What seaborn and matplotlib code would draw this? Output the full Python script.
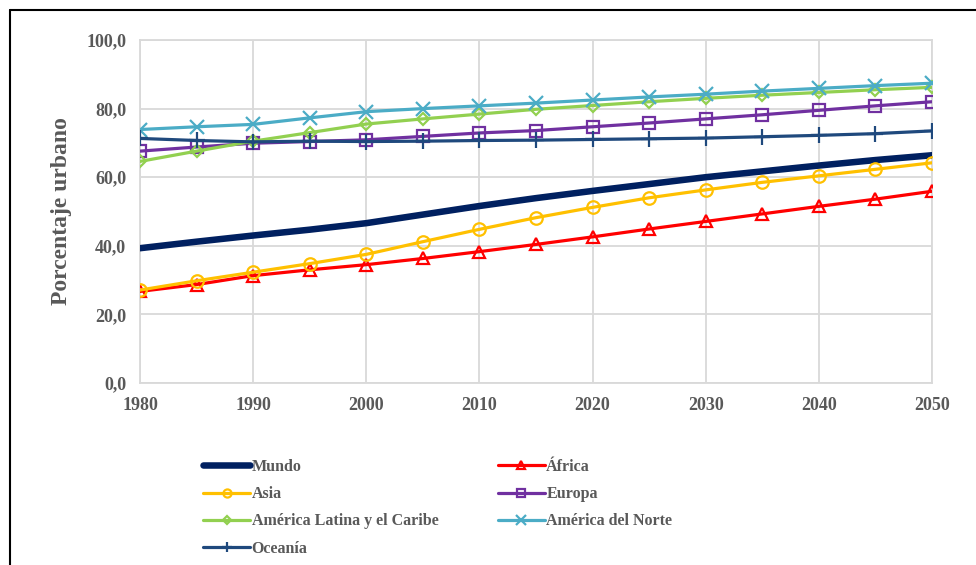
import matplotlib
matplotlib.use("Agg")
import matplotlib.pyplot as plt
import seaborn as sns
import pandas as pd
from matplotlib.lines import Line2D

# años y porcentaje urbano por región
years = [1980, 1985, 1990, 1995, 2000, 2005, 2010, 2015, 2020, 2025, 2030, 2035, 2040, 2045, 2050]
mundo = [39.3, 41.2, 43.0, 44.7, 46.6, 49.1, 51.6, 53.9, 56.0, 58.0, 60.0, 61.7, 63.4, 65.0, 66.4]
africa = [26.7, 28.7, 31.3, 33.0, 34.5, 36.3, 38.3, 40.4, 42.6, 44.9, 47.1, 49.3, 51.5, 53.6, 55.9]
asia = [27.1, 29.8, 32.3, 34.8, 37.5, 41.2, 44.8, 48.2, 51.2, 54.0, 56.3, 58.5, 60.4, 62.3, 64.2]
europa = [67.6, 68.8, 69.9, 70.4, 70.9, 71.9, 72.9, 73.6, 74.7, 75.8, 77.0, 78.2, 79.5, 80.8, 82.0]
latam = [64.6, 67.6, 70.5, 73.0, 75.5, 77.0, 78.4, 79.8, 80.9, 82.0, 83.0, 83.9, 84.7, 85.5, 86.2]
norte = [73.9, 74.7, 75.4, 77.3, 79.1, 80.0, 80.8, 81.6, 82.5, 83.4, 84.2, 85.1, 85.9, 86.7, 87.4]
oceania = [71.3, 70.7, 70.3, 70.5, 70.4, 70.5, 70.7, 70.8, 71.0, 71.2, 71.4, 71.8, 72.2, 72.7, 73.5]

series = {
    "Mundo": mundo,
    "África": africa,
    "Asia": asia,
    "Europa": europa,
    "América Latina y el Caribe": latam,
    "América del Norte": norte,
    "Oceanía": oceania,
}
x_ticks = [1980, 1990, 2000, 2010, 2020, 2030, 2040, 2050]
y_ticks = [0, 20, 40, 60, 80, 100]

# estilo de cada serie: color, marcador, grosor
styles = {
    "Mundo": ("#002060", None, 4.7),
    "África": ("#FF0000", "^", 2.3),
    "Asia": ("#FFC000", "o", 2.3),
    "Europa": ("#7030A0", "s", 2.3),
    "América Latina y el Caribe": ("#92D050", "D", 2.3),
    "América del Norte": ("#4BACC6", "x", 2.3),
    "Oceanía": ("#1F497D", "+", 2.3),
}
msizes = {"^": 9, "o": 9, "s": 9, "D": 6.5, "x": 10, "+": 12}

df = pd.DataFrame({"year": years, **series}).melt(id_vars="year", var_name="region", value_name="pct")

sns.set_style("white")
plt.rcParams["font.family"] = ["Liberation Serif", "DejaVu Serif"]
plt.rcParams["font.weight"] = "bold"
gray = "#595959"

fig = plt.figure(figsize=(9.76, 5.65), dpi=100)
ax = fig.add_axes([140 / 976, 1 - 383 / 565, 792 / 976, 343 / 565])

handles = {}
for name, (color, marker, lw) in styles.items():
    sub = df[df["region"] == name]
    kw = dict(color=color, linewidth=lw, ax=ax, zorder=3, legend=False)
    if marker:
        kw.update(marker=marker, markersize=msizes[marker], markerfacecolor="none",
                  markeredgecolor=color, markeredgewidth=1.6)
    sns.lineplot(data=sub, x="year", y="pct", **kw)
    handles[name] = ax.lines[-1]

ax.set_xlim(1980, 2050)
ax.set_ylim(0, 100)
ax.set_xticks(x_ticks)
ax.set_yticks(y_ticks)
ax.set_yticklabels([f"{v:.1f}".replace(".", ",") for v in y_ticks])
ax.grid(True, color="#d9d9d9", linewidth=1.3)
ax.set_axisbelow(True)
for sp in ax.spines.values():
    sp.set_color("#d9d9d9")
    sp.set_linewidth(1.3)
ax.tick_params(axis="both", length=0, labelsize=13, labelcolor=gray, pad=10)
for lbl in ax.get_xticklabels() + ax.get_yticklabels():
    lbl.set_fontweight("bold")
ax.set_xlabel("")
ax.set_ylabel("Porcentaje urbano", fontsize=17, fontweight="bold", color=gray, labelpad=10)

order = ["Mundo", "Asia", "América Latina y el Caribe", "Oceanía",
         "África", "Europa", "América del Norte"]
leg = fig.legend([handles[n] for n in order], order, loc="upper left",
                 bbox_to_anchor=(203 / 976, 1 - 459 / 565), ncol=2, frameon=False,
                 fontsize=11.5, handlelength=2.95, handletextpad=0.1, columnspacing=3.7,
                 labelspacing=0.7, markerscale=0.65, borderaxespad=0, borderpad=0)
for t in leg.get_texts():
    t.set_color(gray)
    t.set_fontweight("bold")

# marco exterior
fig.add_artist(Line2D([10 / 976, 1], [1 - 10 / 565, 1 - 10 / 565], color="black", linewidth=1.5,
                      transform=fig.transFigure))
fig.add_artist(Line2D([10 / 976, 10 / 976], [0, 1 - 10 / 565], color="black", linewidth=1.5,
                      transform=fig.transFigure))

fig.savefig("out.png", dpi=100)
